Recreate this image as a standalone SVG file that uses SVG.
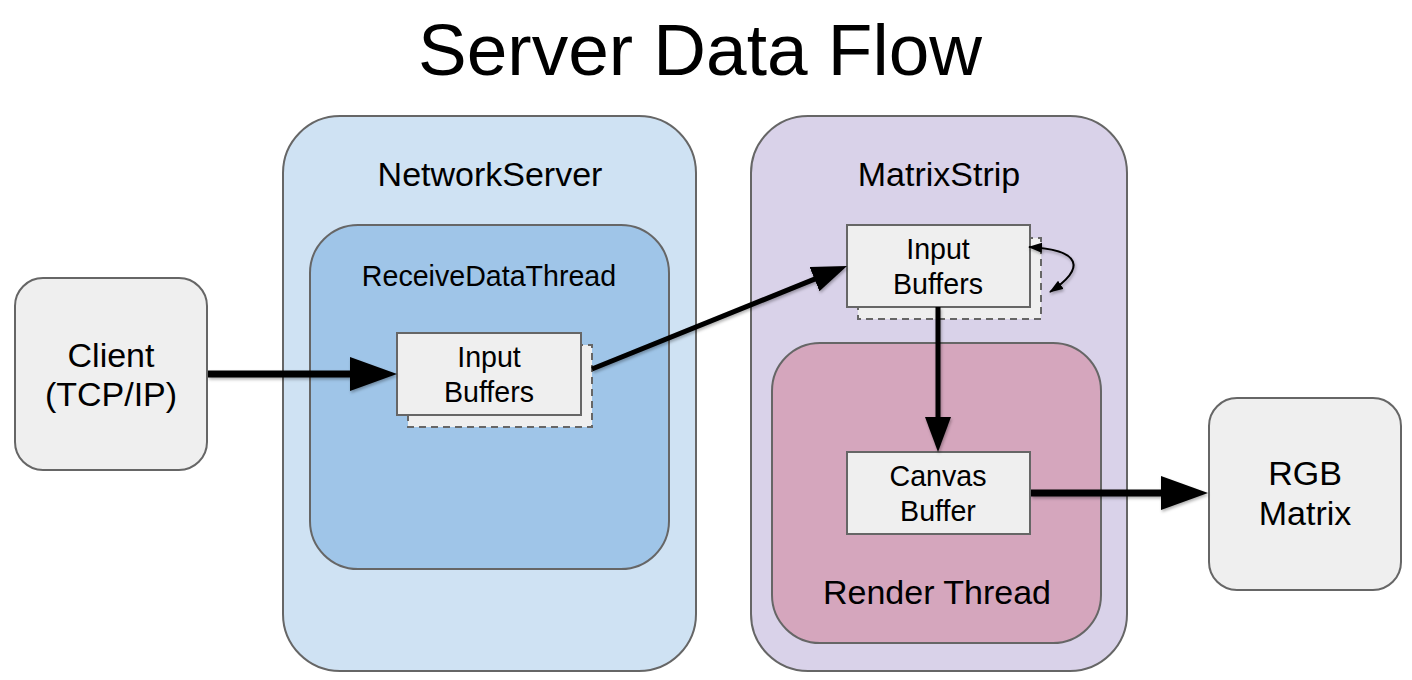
<svg xmlns="http://www.w3.org/2000/svg" width="1412" height="680" viewBox="0 0 1412 680">
<style>
text{font-family:"Liberation Sans",Arial,sans-serif;fill:#000;text-anchor:middle}
.big{font-size:34px}
.small{font-size:28.6px}
.title{font-size:73px}
.box{stroke:#666;stroke-width:2}
.buf{fill:#efefef;stroke:#666;stroke-width:2}
.back{fill:#efefef;stroke:#666;stroke-width:2;stroke-dasharray:7 5}
.thick{stroke:#000;stroke-width:7;fill:none}
.thin{stroke:#000;stroke-width:5;fill:none}
.loop{stroke:#000;stroke-width:2;fill:none}
</style>
<defs>
<filter id="sh" x="-20%" y="-20%" width="140%" height="140%">
<feDropShadow dx="1" dy="2" stdDeviation="1.5" flood-color="#000" flood-opacity="0.3"/>
</filter>
<marker id="ah-big" markerUnits="userSpaceOnUse" markerWidth="48" markerHeight="36" refX="2" refY="17" orient="auto"><path d="M0,0 L47,17 L0,34 Z" fill="#000"/></marker>
<marker id="ah-mid" markerUnits="userSpaceOnUse" markerWidth="36" markerHeight="28" refX="2" refY="13" orient="auto"><path d="M0,0 L35,13 L0,26 Z" fill="#000"/></marker>
<marker id="ah-sm" markerUnits="userSpaceOnUse" markerWidth="15" markerHeight="12" refX="13" refY="5" orient="auto-start-reverse"><path d="M0,0 L14,5 L0,10 Z" fill="#000"/></marker>
</defs>
<rect width="1412" height="680" fill="#fff"/>
<text class="title" x="700" y="75">Server Data Flow</text>

<g id="network-server">
<rect class="box" x="283" y="116" width="413" height="555" rx="57" fill="#cfe2f3"/>
<text class="big" x="490" y="186">NetworkServer</text>
</g>
<g id="receive-data-thread">
<rect class="box" x="310" y="225" width="359" height="344" rx="48" fill="#9fc5e8"/>
<text class="small" x="489" y="286">ReceiveDataThread</text>
</g>
<g id="input-buffers-1">
<rect class="back" x="408" y="345" width="184" height="82"/>
<rect class="buf" x="397" y="333" width="184" height="82"/>
<text class="small" x="489" y="367">Input</text>
<text class="small" x="489" y="402">Buffers</text>
</g>
<g id="matrix-strip">
<rect class="box" x="751" y="116" width="376" height="555" rx="57" fill="#d9d2e9"/>
<text class="big" x="939" y="186">MatrixStrip</text>
</g>
<g id="render-thread">
<rect class="box" x="772" y="343" width="329" height="300" rx="48" fill="#d5a6bd"/>
<text class="big" x="937" y="604">Render Thread</text>
</g>
<g id="input-buffers-2">
<rect class="back" x="858" y="238" width="183" height="81"/>
<rect class="buf" x="847" y="225" width="183" height="82"/>
<text class="small" x="938" y="259">Input</text>
<text class="small" x="938" y="294">Buffers</text>
</g>
<g id="canvas-buffer">
<rect class="buf" x="847" y="452" width="183" height="82"/>
<text class="small" x="938" y="486">Canvas</text>
<text class="small" x="938" y="521">Buffer</text>
</g>
<g id="client">
<rect class="box" x="15" y="278" width="192" height="192" rx="28" fill="#efefef"/>
<text class="big" x="111" y="367">Client</text>
<text class="big" x="111" y="406">(TCP/IP)</text>
</g>
<g id="rgb-matrix">
<rect class="box" x="1209" y="398" width="192" height="192" rx="28" fill="#efefef"/>
<text class="big" x="1305" y="485">RGB</text>
<text class="big" x="1305" y="525">Matrix</text>
</g>

<g id="connectors" filter="url(#sh)">
<path class="thick" d="M208,374 L352,374" marker-end="url(#ah-big)"/>
<path class="thin" d="M592,369 L816.4,278.4" marker-end="url(#ah-mid)"/>
<path class="thin" d="M938,307 L938,419" marker-end="url(#ah-mid)"/>
<path class="thick" d="M1031,493 L1163,493" marker-end="url(#ah-big)"/>
<path class="loop" d="M1050,292 C1086,268 1082,250 1029,247" marker-start="url(#ah-sm)" marker-end="url(#ah-sm)"/>
</g>
</svg>
